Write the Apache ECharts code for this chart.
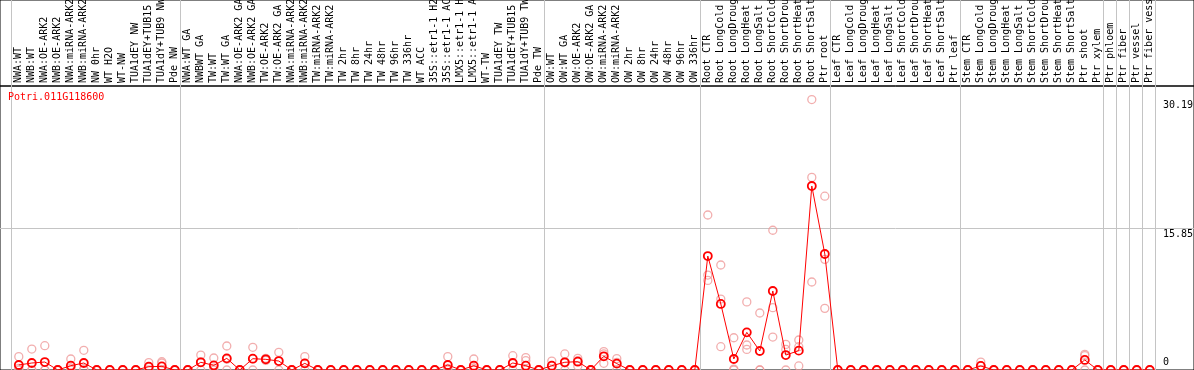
<!DOCTYPE html>
<html><head><meta charset="utf-8">
<script src="https://cdn.jsdelivr.net/npm/echarts@6/dist/echarts.min.js"></script>
<style>html,body{margin:0;padding:0;background:#fff}#c{width:1194px;height:370px}</style>
</head><body><div id="c"></div>
<script>
const chartTitle = 'Potri.011G118600';
const categories = [
  'NWA:WT','NWB:WT','NWA:OE-ARK2','NWB:OE-ARK2','NWA:miRNA-ARK2','NWB:miRNA-ARK2','NW 0hr','WT H2O','WT-NW','TUA1dEY NW','TUA1dEY+TUB15 NW','TUA1dY+TUB9 NW','Pde NW',
  'NWA:WT GA','NWBWT GA','TW:WT','TW:WT GA','NWA:OE-ARK2 GA','NWB:OE-ARK2 GA','TW:OE-ARK2','TW:OE-ARK2 GA','NWA:miRNA-ARK2 GA','NWB:miRNA-ARK2 GA','TW:miRNA-ARK2','TW:miRNA-ARK2 GA',
  'TW 2hr','TW 8hr','TW 24hr','TW 48hr','TW 96hr','TW 336hr','WT ACC','35S::etr1-1 H2O','35S::etr1-1 ACC','LMX5::etr1-1 H2O','LMX5::etr1-1 ACC','WT-TW','TUA1dEY TW','TUA1dEY+TUB15 TW','TUA1dY+TUB9 TW','Pde TW',
  'OW:WT','OW:WT GA','OW:OE-ARK2','OW:OE-ARK2 GA','OW:miRNA-ARK2','OW:miRNA-ARK2 GA','OW 2hr','OW 8hr','OW 24hr','OW 48hr','OW 96hr','OW 336hr',
  'Root CTR','Root LongCold','Root LongDrought','Root LongHeat','Root LongSalt','Root ShortCold','Root ShortDrought','Root ShortHeat','Root ShortSalt','Ptr root',
  'Leaf CTR','Leaf LongCold','Leaf LongDrought','Leaf LongHeat','Leaf LongSalt','Leaf ShortCold','Leaf ShortDrought','Leaf ShortHeat','Leaf ShortSalt','Ptr leaf',
  'Stem CTR','Stem LongCold','Stem LongDrought','Stem LongHeat','Stem LongSalt','Stem ShortCold','Stem ShortDrought','Stem ShortHeat','Stem ShortSalt','Ptr shoot','Ptr xylem',
  'Ptr phloem','Ptr fiber','Ptr vessel','Ptr fiber vessel'
];
const means = [
  0.56,0.78,0.89,0,0.48,0.78,0,0,0,0,0.37,0.40,0,
  0,0.86,0.52,1.30,0,1.26,1.19,1.00,0,0.74,0,0,
  0,0,0,0,0,0,0,0,0.56,0,0.48,0,0,0.78,0.48,0,
  0.48,0.86,0.93,0,1.53,0.71,0,0,0,0,0,0,
  12.72,7.37,1.23,4.20,2.12,8.82,1.67,2.16,20.54,12.95,
  0,0,0,0,0,0,0,0,0,0,
  0,0.45,0,0,0,0,0,0,0,1.12,0,
  0,0,0,0
];
const replicates = [
  [1.49,0.19,0],[2.34,0,0],[2.71,0,0],[0,0,0],[1.23,0.2,0],[2.2,0.14,0],[0,0,0],[0,0,0],[0,0,0],[0,0,0],[0.82,0.3,0],[0.93,0.78,0],[0,0,0],
  [0,0,0],[1.67,0.9,0],[1.34,0.22,0],[2.68,1.2,0],[0,0,0],[2.53,1.25,0],[1.3,1.2,1.07],[1.97,1.0,0],[0,0,0],[1.49,0.73,0],[0,0,0],[0,0,0],
  [0,0,0],[0,0,0],[0,0,0],[0,0,0],[0,0,0],[0,0,0],[0,0,0],[0,0,0],[1.49,0.19,0],[0,0,0],[1.23,0.2,0],[0,0,0],[0,0,0],[1.6,0.74,0],[1.38,1.04,0],[0,0,0],
  [1.0,0.44,0],[1.79,0.79,0],[1.3,1.04,0.45],[0,0,0],[2.05,1.79,0.75],[1.27,0.86,0],[0,0,0],[0,0,0],[0,0,0],[0,0,0],[0,0,0],[0,0,0],
  [17.3,10.6,10.0],[11.72,7.92,2.6],[3.6,0.1,0],[7.6,2.79,2.3],[6.36,0,0],[15.6,6.96,3.68],[2.86,2.3,0],[3.35,2.6,0.45],[30.19,21.5,9.82],[19.4,12.35,6.88],
  [0,0,0],[0,0,0],[0,0,0],[0,0,0],[0,0,0],[0,0,0],[0,0,0],[0,0,0],[0,0,0],[0,0,0],
  [0,0,0],[0.89,0.45,0],[0,0,0],[0,0,0],[0,0,0],[0,0,0],[0,0,0],[0,0,0],[0,0,0],[1.75,1.6,0],[0,0,0],
  [0,0,0],[0,0,0],[0,0,0],[0,0,0]
];
const groupBoundaries = [0,13,41,53,63,73,84,85,86,87,88];
const yTickLabels = [15.85, 30.19];
const yZeroLabel = [0];
const yMax = 31.7;

// layout constants
const X_OFFSET = 0.6;          // position of a point inside its column
const X_MIN = -11/13, X_MAX = 91;
const FONT = 'DejaVu Sans Mono';

const meanData = means.map((v, i) => [i + X_OFFSET, v]);
const repData = [];
replicates.forEach((arr, i) => arr.forEach(v => repData.push([i + X_OFFSET, v])));
const labelPos = categories.map((_, i) => i + X_OFFSET);

const chart = echarts.init(document.getElementById('c'), null, {renderer: 'canvas'});
chart.setOption({
  animation: false,
  backgroundColor: '#fff',
  title: {
    text: chartTitle, left: 8, top: 92, padding: 0,
    textStyle: {color: '#ff0000', fontFamily: FONT, fontSize: 10, fontWeight: 'normal'}
  },
  grid: [
    {left: 0, right: 0, top: 86, bottom: 0, show: true, borderColor: '#000', borderWidth: 1, backgroundColor: 'transparent', outerBoundsMode: 'none', containLabel: false},
    {left: 0, right: 0, top: 0, height: 86, show: true, borderColor: '#000', borderWidth: 1, backgroundColor: 'transparent', outerBoundsMode: 'none', containLabel: false}
  ],
  xAxis: [
    {
      gridIndex: 0, type: 'value', min: X_MIN, max: X_MAX,
      axisLine: {show: false}, axisLabel: {show: false},
      axisTick: {show: false, customValues: groupBoundaries},
      splitLine: {show: true, lineStyle: {color: '#c4c4c4', width: 1}}
    },
    {
      gridIndex: 1, type: 'value', min: X_MIN, max: X_MAX, position: 'bottom',
      axisLine: {show: false},
      axisTick: {show: false, customValues: groupBoundaries},
      splitLine: {show: true, lineStyle: {color: '#c4c4c4', width: 1}},
      axisLabel: {
        show: true, inside: true, rotate: 90, margin: 3,
        customValues: labelPos,
        formatter: v => categories[Math.floor(v)] || '',
        fontFamily: FONT, fontSize: 10, color: '#000'
      }
    }
  ],
  yAxis: [
    {
      gridIndex: 0, type: 'value', min: 0, max: yMax, position: 'right',
      axisLine: {show: false},
      axisTick: {show: false, customValues: [15.85]},
      splitLine: {show: true, lineStyle: {color: '#c4c4c4', width: 1}},
      axisLabel: {
        inside: true, margin: 31, align: 'left', verticalAlign: 'top',
        customValues: yTickLabels,
        formatter: v => v.toFixed(2),
        fontFamily: FONT, fontSize: 10, color: '#000', padding: [1, 0, 0, 0]
      }
    },
    {
      gridIndex: 0, type: 'value', min: 0, max: yMax, position: 'right',
      axisLine: {show: false},
      axisTick: {show: false, customValues: yZeroLabel},
      splitLine: {show: false},
      axisLabel: {
        inside: true, margin: 31, align: 'left', verticalAlign: 'bottom',
        customValues: yZeroLabel,
        formatter: v => String(v),
        fontFamily: FONT, fontSize: 10, color: '#000', padding: [0, 0, 3, 0]
      }
    },
    {gridIndex: 1, type: 'value', min: 0, max: 1, show: false}
  ],
  series: [
    {
      type: 'scatter', xAxisIndex: 0, yAxisIndex: 0, data: repData,
      symbol: 'circle', symbolSize: 8, silent: true, z: 2,
      itemStyle: {color: 'rgba(0,0,0,0)', borderColor: '#ef9a9a', borderWidth: 1.3}
    },
    {
      type: 'line', xAxisIndex: 0, yAxisIndex: 0, data: meanData,
      symbol: 'circle', symbolSize: 8, showAllSymbol: true, silent: true, z: 3,
      lineStyle: {color: '#ff0000', width: 1},
      itemStyle: {color: 'rgba(0,0,0,0)', borderColor: '#ff0000', borderWidth: 1.8}
    }
  ]
});
</script>
</body></html>
